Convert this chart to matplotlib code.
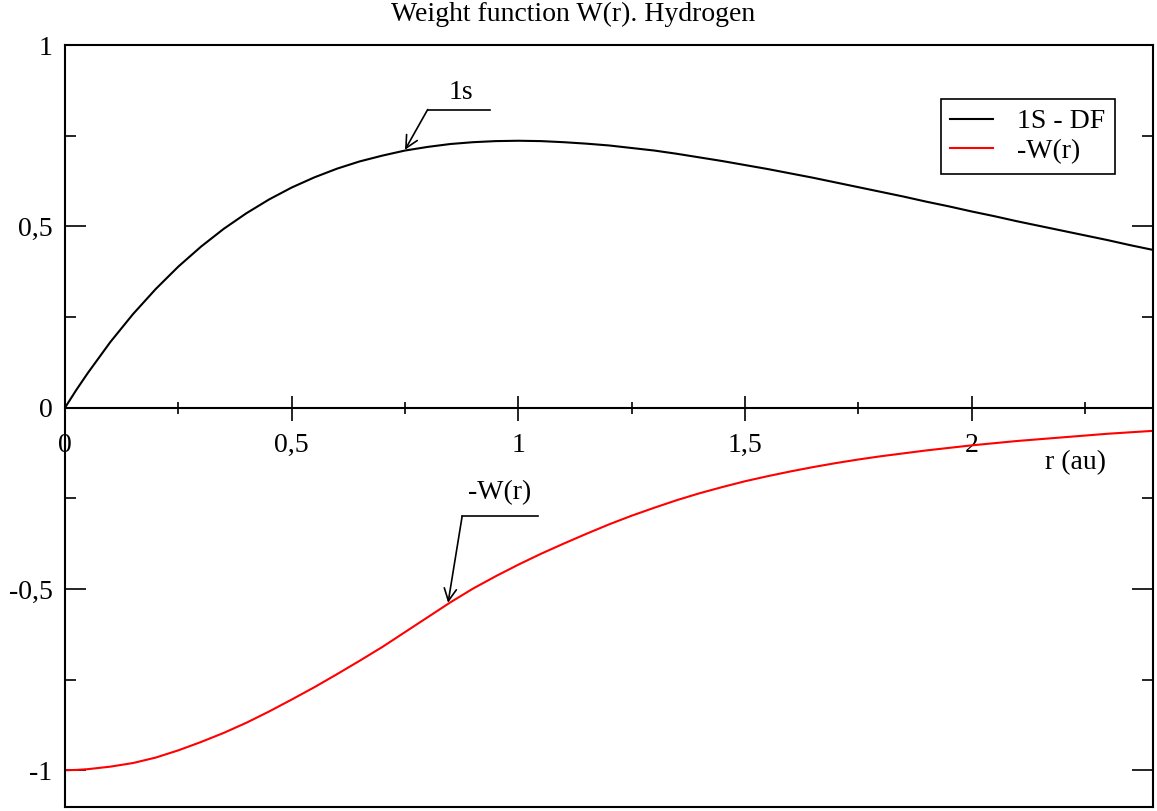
import numpy as np
import matplotlib.pyplot as plt
from matplotlib.ticker import MultipleLocator, FuncFormatter
from matplotlib.lines import Line2D

plt.rcParams['font.family'] = ['Liberation Serif', 'DejaVu Serif']

# radial grid (au)
r = [0.0, 0.025, 0.05, 0.1, 0.15, 0.2, 0.25, 0.3, 0.35, 0.4, 0.45, 0.5,
     0.55, 0.6, 0.65, 0.7, 0.75, 0.8, 0.85, 0.9, 0.95, 1.0, 1.05, 1.1,
     1.15, 1.2, 1.25, 1.3, 1.35, 1.4, 1.45, 1.5, 1.55, 1.6, 1.65, 1.7,
     1.75, 1.8, 1.85, 1.9, 1.95, 2.0, 2.05, 2.1, 2.15, 2.2, 2.25, 2.3,
     2.35, 2.4]

# 1S Dirac-Fock radial function
p_1s = [0.0, 0.049, 0.095, 0.181, 0.258, 0.327, 0.389, 0.444, 0.493, 0.536,
        0.574, 0.607, 0.635, 0.659, 0.679, 0.695, 0.709, 0.719, 0.727, 0.732,
        0.735, 0.736, 0.735, 0.732, 0.728, 0.723, 0.716, 0.709, 0.700, 0.690,
        0.680, 0.669, 0.658, 0.646, 0.634, 0.621, 0.608, 0.595, 0.582, 0.568,
        0.555, 0.541, 0.528, 0.514, 0.501, 0.488, 0.475, 0.462, 0.448, 0.435]

# minus weight function
minus_w = [-1.0, -0.999, -0.997, -0.990, -0.980, -0.965, -0.945, -0.922,
           -0.897, -0.869, -0.838, -0.805, -0.771, -0.735, -0.698, -0.660,
           -0.619, -0.578, -0.537, -0.499, -0.465, -0.433, -0.403, -0.375,
           -0.348, -0.322, -0.298, -0.276, -0.255, -0.236, -0.219, -0.203,
           -0.189, -0.176, -0.164, -0.153, -0.143, -0.134, -0.126, -0.118,
           -0.111, -0.104, -0.098, -0.092, -0.087, -0.082, -0.077, -0.072,
           -0.068, -0.064]

fig = plt.figure(figsize=(11.57, 8.11), dpi=100)
ax = fig.add_axes([0.0562, 0.0055, 0.9403, 0.939])

ax.plot(r, p_1s, color='black', lw=1.5, label='1S - DF')
ax.plot(r, minus_w, color='red', lw=1.5, label='-W(r)')

ax.set_xlim(0, 2.4)
ax.set_ylim(-1.1, 1.0)

# x axis drawn through zero, box closed by hand at the bottom
for s in ax.spines.values():
    s.set_linewidth(1.5)
ax.spines['bottom'].set_position(('data', 0))
ax.add_line(Line2D([0, 1], [0, 0], transform=ax.transAxes, color='black',
                   lw=1.5, clip_on=False))

comma = FuncFormatter(lambda v, p: ('%g' % v).replace('.', ','))
ax.xaxis.set_major_locator(MultipleLocator(0.5))
ax.xaxis.set_minor_locator(MultipleLocator(0.25))
ax.yaxis.set_major_locator(MultipleLocator(0.5))
ax.yaxis.set_minor_locator(MultipleLocator(0.25))
ax.xaxis.set_major_formatter(comma)
ax.yaxis.set_major_formatter(comma)

ax.tick_params(axis='x', which='major', direction='inout', length=18, width=1.2,
               labelsize=20, pad=9)
ax.tick_params(axis='x', which='minor', direction='inout', length=9, width=1.2)
ax.tick_params(axis='y', which='major', direction='in', length=15, width=1.2,
               labelsize=20, pad=9, right=True)
ax.tick_params(axis='y', which='minor', direction='in', length=8, width=1.2,
               right=True)

ax.text(2.161, -0.152, 'r (au)', fontsize=20, ha='left', va='center')
fig.suptitle('Weight function W(r). Hydrogen', fontsize=20, x=0.495, y=0.998,
             va='top')

# labels with leader arrows
ax.plot([0.80, 0.937], [0.822, 0.822], color='black', lw=1.2)
ax.annotate('', xy=(0.75, 0.711), xytext=(0.80, 0.822),
            arrowprops=dict(arrowstyle='->', color='black', lw=1.2,
                            mutation_scale=22, shrinkA=0, shrinkB=0))
ax.text(0.873, 0.870, '1s', fontsize=20, ha='center', va='center')

ax.plot([0.876, 1.043], [-0.30, -0.30], color='black', lw=1.2)
ax.annotate('', xy=(0.845, -0.538), xytext=(0.876, -0.30),
            arrowprops=dict(arrowstyle='->', color='black', lw=1.2,
                            mutation_scale=22, shrinkA=0, shrinkB=0))
ax.text(0.958, -0.234, '-W(r)', fontsize=20, ha='center', va='center')

leg = ax.legend(loc='upper right', bbox_to_anchor=(0.965, 0.929), fontsize=20,
                fancybox=False, edgecolor='black', framealpha=1,
                handlelength=1.55, handletextpad=0.85, borderpad=0.35,
                labelspacing=0.15, borderaxespad=0)
leg.get_frame().set_linewidth(1.2)

fig.savefig('out.png', dpi=100)
